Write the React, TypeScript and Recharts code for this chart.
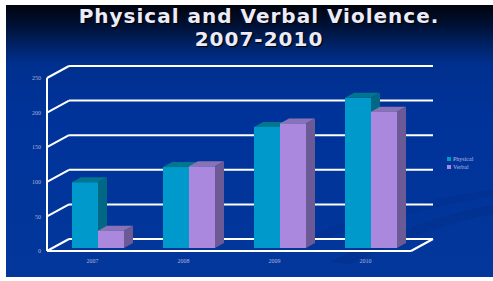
import React from 'react';
import { BarChart, Bar, XAxis, YAxis, CartesianGrid } from 'recharts';

const categories = ['2007', '2008', '2009', '2010'];
const physical = [95, 117, 175, 217];
const verbal = [25, 118, 180, 197];
const yTicks = [0, 50, 100, 150, 200, 250];

const data = categories.map((year, i) => ({ year, Physical: physical[i], Verbal: verbal[i] }));

// 3d look: wall depth and bar depth
const WALL_DX = 22;
const WALL_DY = 12;
const BAR_SHIFT_X = 5;
const BAR_SHIFT_Y = 3;
const BAR_DX = 9;
const BAR_DY = 5;
const BACK_RIGHT = 433;

const colors = {
  Physical: { front: '#0099cc', top: '#00768f', side: '#006784' },
  Verbal: { front: '#aa88dd', top: '#8a72b6', side: '#6c5a96' },
};

const make3DBar = (c: { front: string; top: string; side: string }) => (props: any) => {
  const { x, y, width, height } = props;
  if (height == null || height <= 0) return <g />;
  const fx = x + BAR_SHIFT_X;
  const fy = y - BAR_SHIFT_Y;
  const w = width;
  const h = height;
  return (
    <g>
      <polygon
        points={`${fx},${fy} ${fx + BAR_DX},${fy - BAR_DY} ${fx + w + BAR_DX},${fy - BAR_DY} ${fx + w},${fy}`}
        fill={c.top}
      />
      <polygon
        points={`${fx + w},${fy} ${fx + w + BAR_DX},${fy - BAR_DY} ${fx + w + BAR_DX},${fy + h - BAR_DY} ${fx + w},${fy + h}`}
        fill={c.side}
      />
      <rect x={fx} y={fy} width={w} height={h} fill={c.front} />
    </g>
  );
};

const wallLine = (props: any) => {
  const { x1, y1, x2, index } = props;
  const bx = x1 + WALL_DX;
  const by = y1 - WALL_DY;
  const isFloor = Math.abs(y1 - 251) < 2;
  return (
    <g key={`grid-${index}`}>
      <line x1={x1} y1={y1} x2={bx} y2={by} stroke="#fff" strokeWidth={2} />
      <line x1={bx} y1={by} x2={BACK_RIGHT} y2={by} stroke="#fff" strokeWidth={2} />
      {isFloor && (
        <line x1={x2} y1={y1} x2={x2 + WALL_DX} y2={by} stroke="#fff" strokeWidth={2} />
      )}
    </g>
  );
};

const tickStyle = { fontFamily: '"Liberation Serif", serif', fontSize: 6, fill: '#aab4dc' };

export default function App() {
  return (
    <div style={{ position: 'absolute', left: 0, top: 0, width: 493, height: 281, background: '#fff', overflow: 'hidden' }}>
      <div
        style={{
          position: 'absolute',
          left: 6,
          top: 5,
          width: 487,
          height: 272,
          background: 'linear-gradient(to bottom, #00030c 0%, #001238 8%, #00256e 16%, #00308f 22%, #003399 40%, #03379c 100%)',
        }}
      />
      <svg width={493} height={281} style={{ position: 'absolute', left: 0, top: 0 }}>
        <path d="M 330 262 Q 430 215 493 205 L 493 214 Q 430 225 350 264 Z" fill="#022b82" opacity={0.35} />
        <path d="M 300 238 Q 410 200 493 190 L 493 196 Q 410 210 320 240 Z" fill="#022b82" opacity={0.3} />
      </svg>
      <div
        style={{
          position: 'absolute',
          left: 0,
          top: 5,
          width: 518,
          textAlign: 'center',
          fontFamily: '"DejaVu Sans", sans-serif',
          fontWeight: 'bold',
          fontSize: 20,
          lineHeight: '23px',
          color: '#ecebfa',
          letterSpacing: 1,
          textShadow: '1px 1px 1px #000',
        }}
      >
        Physical and Verbal Violence.
        <br />
        2007-2010
      </div>
      <div style={{ position: 'absolute', left: 0, top: 0 }}>
        <BarChart
          width={493}
          height={281}
          data={data}
          margin={{ top: 78, right: 82, bottom: 0, left: 0 }}
          barSize={26}
          barGap={0}
        >
          <CartesianGrid vertical={false} horizontal={wallLine} />
          <XAxis
            dataKey="year"
            height={30}
            axisLine={{ stroke: '#fff', strokeWidth: 2 }}
            tickLine={false}
            tick={tickStyle}
            tickSize={6}
            tickMargin={2}
          />
          <YAxis
            width={47}
            domain={[0, 250]}
            ticks={yTicks}
            interval={0}
            axisLine={{ stroke: '#fff', strokeWidth: 2 }}
            tickLine={false}
            tick={tickStyle}
            tickSize={4}
            tickMargin={2}
          />
          <Bar dataKey="Physical" isAnimationActive={false} shape={make3DBar(colors.Physical)} />
          <Bar dataKey="Verbal" isAnimationActive={false} shape={make3DBar(colors.Verbal)} />
        </BarChart>
      </div>
      <div
        style={{
          position: 'absolute',
          left: 447,
          top: 155,
          fontFamily: '"Liberation Serif", serif',
          fontSize: 6,
          lineHeight: '8px',
          color: '#b4bce4',
        }}
      >
        {[
          { name: 'Physical', color: colors.Physical.front },
          { name: 'Verbal', color: colors.Verbal.front },
        ].map((item) => (
          <div key={item.name} style={{ display: 'flex', alignItems: 'center' }}>
            <span style={{ display: 'inline-block', width: 4, height: 4, background: item.color, marginRight: 2 }} />
            {item.name}
          </div>
        ))}
      </div>
    </div>
  );
}
